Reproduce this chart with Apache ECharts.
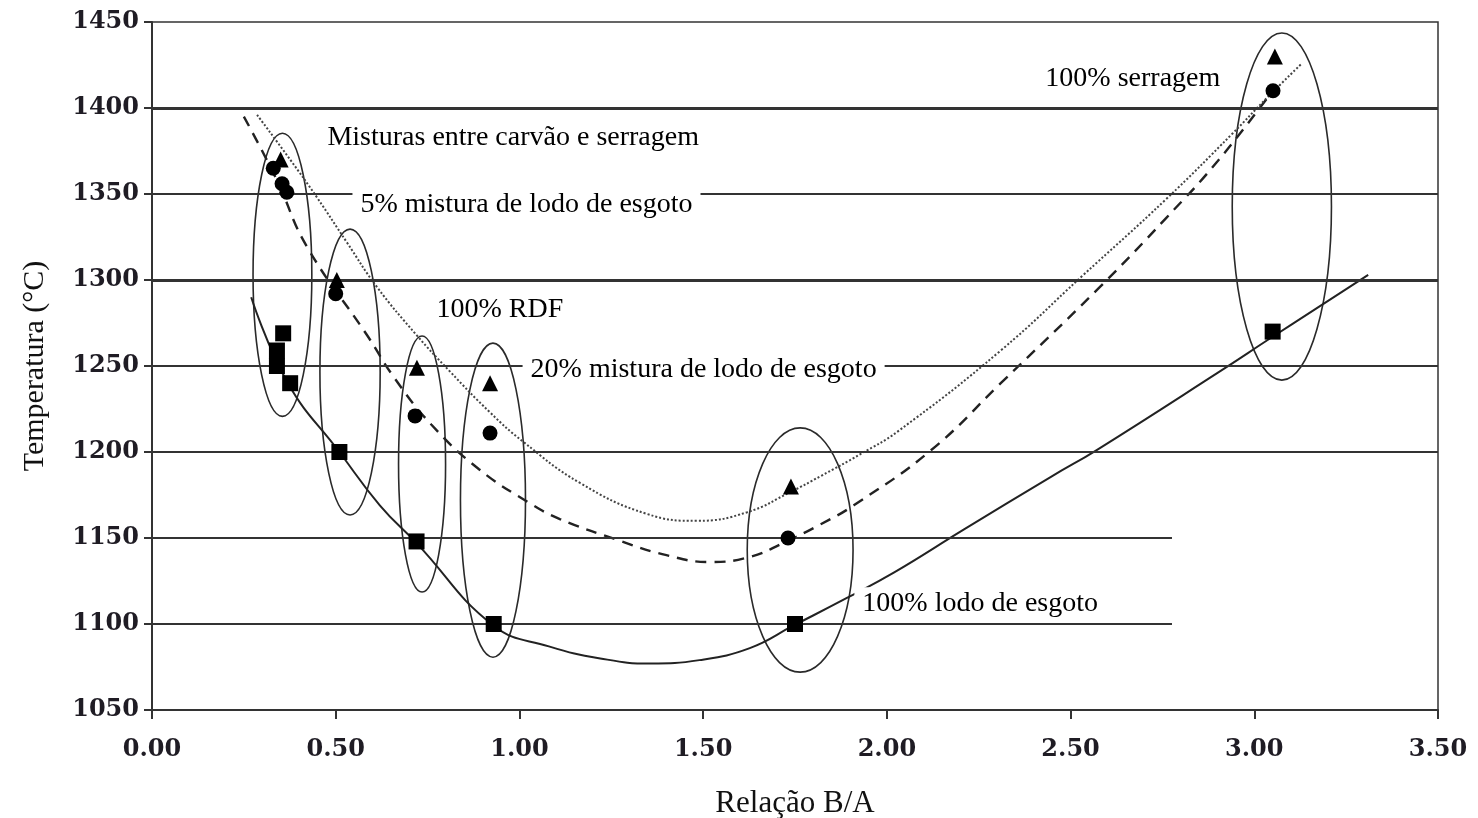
<!DOCTYPE html>
<html>
<head>
<meta charset="utf-8">
<script src="https://cdn.jsdelivr.net/npm/echarts@6/dist/echarts.min.js"></script>
<style>
html,body{margin:0;padding:0;background:#fff;}
#chart{width:1478px;height:818px;}
</style>
</head>
<body>
<div id="chart"></div>
<script>
// ---- data ----
const xTicks = [0, 0.5, 1, 1.5, 2, 2.5, 3, 3.5];
const yTicks = [1050, 1100, 1150, 1200, 1250, 1300, 1350, 1400, 1450];

// measured points: 100% lodo de esgoto (squares)
const lodoX = [0.357, 0.34, 0.34, 0.376, 0.51, 0.72, 0.93, 1.75, 3.05];
const lodoY = [1269, 1259, 1250, 1240, 1200, 1148, 1100, 1100, 1270];
// 20% mistura de lodo de esgoto (circles)
const mix20X = [0.33, 0.354, 0.367, 0.50, 0.716, 0.92, 1.731, 3.051];
const mix20Y = [1365, 1356, 1351, 1292, 1221, 1211, 1150, 1410];
// 5% mistura de lodo de esgoto (triangles)
const mix5X = [0.35, 0.503, 0.721, 0.92, 1.739, 3.056];
const mix5Y = [1370, 1300, 1249, 1240, 1180, 1430];

// trend curves
const trendLodoX = [0.27, 0.37, 0.51, 0.62, 0.72, 0.93, 1.08, 1.22, 1.355, 1.49, 1.627, 1.745, 1.89, 2.02, 2.21, 2.45, 2.57, 2.90, 3.05, 3.31];
const trendLodoY = [1290, 1240, 1200, 1169, 1147, 1099, 1087, 1080, 1077, 1079, 1086, 1099, 1115, 1130, 1155, 1186, 1201, 1246, 1267, 1303];
const trend20X = [0.25, 0.34, 0.42, 0.585, 0.66, 0.76, 0.89, 1.03, 1.11, 1.265, 1.40, 1.52, 1.627, 1.717, 1.82, 1.91, 2.12, 2.31, 2.58, 2.76, 2.90, 3.05];
const trend20Y = [1395, 1358, 1320, 1268, 1243, 1216, 1190, 1170, 1161, 1149, 1140, 1136, 1139, 1147, 1158, 1169, 1201, 1240, 1296, 1336, 1369, 1410];
const trend5X = [0.286, 0.376, 0.449, 0.53, 0.612, 0.72, 0.81, 0.92, 1.01, 1.165, 1.347, 1.483, 1.62, 1.74, 1.82, 1.93, 2.03, 2.31, 2.53, 2.76, 2.94, 3.035, 3.13];
const trend5Y = [1396, 1370, 1348, 1322, 1296, 1268, 1247, 1223, 1206, 1182, 1164, 1160, 1165, 1177, 1186, 1199, 1212, 1259, 1302, 1347, 1385, 1406, 1426];

// cluster ellipses: centre x, centre y, half-width (x units), half-height (y units)
const ellCx = [0.355, 0.539, 0.735, 0.928, 1.764, 3.075];
const ellCy = [1303, 1246.5, 1193, 1172, 1143, 1342.7];
const ellRx = [0.080, 0.082, 0.064, 0.0885, 0.144, 0.135];
const ellRy = [82.3, 83.1, 74.4, 91.3, 71, 100.9];

// horizontal reference lines
const gridY = [1400, 1350, 1300, 1250, 1200, 1150, 1100];
const gridEndX = [3.5, 3.5, 3.5, 3.5, 3.5, 2.776, 2.776];
const gridHeavy = [true, false, true, false, false, false, false];

// annotations
const noteText = ['Misturas entre carvão e serragem', '5% mistura de lodo de esgoto', '100% RDF',
  '20% mistura de lodo de esgoto', '100% lodo de esgoto', '100% serragem'];
const noteX = [0.476, 0.566, 0.773, 1.029, 1.932, 2.43];
const noteY = [1383, 1344, 1282.5, 1248, 1112, 1417];

const zip = (a, b) => a.map((v, i) => [v, b[i]]);

const chart = echarts.init(document.getElementById('chart'), null, {renderer: 'canvas'});
const lineCol = '#222';
const tickFont = {fontFamily: 'DejaVu Serif', fontWeight: 'bold', fontSize: 24, color: '#1f1c24'};

const option = {
  backgroundColor: '#fff',
  animation: false,
  grid: {left: 152, right: 40, top: 22, bottom: 108, containLabel: false, outerBoundsMode: 'none',
    show: true, borderColor: '#333', borderWidth: 1.5},
  xAxis: {
    type: 'value', min: 0, max: 3.5, interval: 0.5,
    name: 'Relação B/A', nameLocation: 'middle', nameGap: 78,
    nameTextStyle: {fontFamily: 'Liberation Serif', fontSize: 31, color: '#111'},
    axisLine: {show: true, lineStyle: {color: '#333', width: 2}},
    axisTick: {show: true, length: 9, lineStyle: {color: '#333', width: 2}},
    axisLabel: Object.assign({margin: 28, formatter: v => v.toFixed(2)}, tickFont),
    splitLine: {show: false}
  },
  yAxis: {
    type: 'value', min: 1050, max: 1450, interval: 50,
    name: 'Temperatura (°C)', nameLocation: 'middle', nameGap: 102,
    nameTextStyle: {fontFamily: 'Liberation Serif', fontSize: 30, color: '#111'},
    axisLine: {show: true, lineStyle: {color: '#333', width: 2}},
    axisTick: {show: true, length: 8, lineStyle: {color: '#333', width: 2}},
    axisLabel: Object.assign({margin: 13, formatter: v => String(v)}, tickFont),
    splitLine: {show: false}
  },
  series: [
    {
      type: 'custom', name: 'elipses', silent: true, z: 3,
      data: ellCx.map((c, i) => [c, ellCy[i], ellRx[i], ellRy[i]]),
      renderItem: function (params, api) {
        const c = api.coord([api.value(0), api.value(1)]);
        const s = api.size([api.value(2), api.value(3)]);
        return {type: 'ellipse', shape: {cx: c[0], cy: c[1], rx: s[0], ry: s[1]},
          style: {fill: null, stroke: '#2a2a2a', lineWidth: 1.6}};
      },
      markLine: {
        silent: true, symbol: ['none', 'none'], label: {show: false},
        data: gridY.map((y, i) => [
          {coord: [0, y], lineStyle: {color: '#333', type: 'solid', width: gridHeavy[i] ? 3.2 : 1.8}},
          {coord: [gridEndX[i], y]}
        ])
      }
    },
    {type: 'line', name: 'tendência 100% lodo', data: zip(trendLodoX, trendLodoY), smooth: 0.45, smoothConstraint: false, symbol: 'none', z: 4,
      lineStyle: {color: lineCol, width: 2, type: 'solid'}},
    {type: 'line', name: 'tendência 20% mistura', data: zip(trend20X, trend20Y), smooth: 0.45, smoothConstraint: false, symbol: 'none', z: 4,
      lineStyle: {color: lineCol, width: 2.4, type: [11, 8]}},
    {type: 'line', name: 'tendência 5% mistura', data: zip(trend5X, trend5Y), smooth: 0.45, smoothConstraint: false, symbol: 'none', z: 4,
      lineStyle: {color: '#444', width: 2, type: [2, 2]}},
    {type: 'scatter', name: '100% lodo de esgoto', data: zip(lodoX, lodoY), symbol: 'rect', symbolSize: 16, z: 6,
      itemStyle: {color: '#000', opacity: 1}},
    {type: 'scatter', name: '20% mistura de lodo de esgoto', data: zip(mix20X, mix20Y), symbol: 'circle', symbolSize: 15, z: 6,
      itemStyle: {color: '#000', opacity: 1}},
    {type: 'scatter', name: '5% mistura de lodo de esgoto', data: zip(mix5X, mix5Y), symbol: 'triangle', symbolSize: 16, z: 6,
      itemStyle: {color: '#000', opacity: 1}},
    {
      type: 'scatter', name: 'notas', silent: true, z: 5, symbolSize: 1,
      itemStyle: {color: 'rgba(0,0,0,0)'},
      data: noteX.map((x, i) => ({value: [x, noteY[i]], name: noteText[i]})),
      label: {
        show: true, position: 'right', distance: 0, offset: [-8, 0], formatter: p => p.name,
        fontFamily: 'Liberation Serif', fontSize: 28, color: '#000', opacity: 1,
        backgroundColor: '#fff', padding: [2, 8]
      }
    }
  ]
};
chart.setOption(option);
</script>
</body>
</html>
